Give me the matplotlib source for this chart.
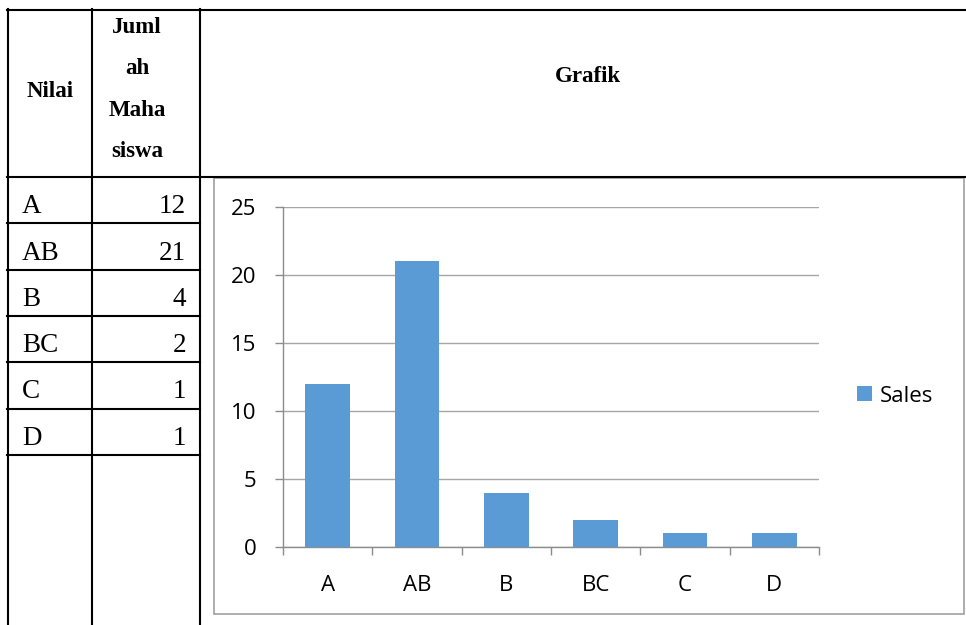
import matplotlib
matplotlib.use('Agg')
import matplotlib.pyplot as plt
from matplotlib.lines import Line2D
from matplotlib.patches import Rectangle

# data
grades = ['A', 'AB', 'B', 'BC', 'C', 'D']
students = [12, 21, 4, 2, 1, 1]
series_name = 'Sales'
header_col1 = 'Nilai'
header_col2 = ['Juml', 'ah', 'Maha', 'siswa']
header_col3 = 'Grafik'

W, H = 966, 625
bar_color = '#5b9bd5'
grid_color = '#a6a6a6'


def fx(x):
    return x / W


def fy(y):
    return 1 - y / H


fig = plt.figure(figsize=(W / 100, H / 100), dpi=100)

# table lines
lw = 1.5


def hline(y, x0, x1):
    fig.add_artist(Line2D([fx(x0), fx(x1)], [fy(y), fy(y)], color='black', lw=lw,
                          transform=fig.transFigure))


def vline(x, y0, y1):
    fig.add_artist(Line2D([fx(x), fx(x)], [fy(y0), fy(y1)], color='black', lw=lw,
                          transform=fig.transFigure))


hline(10, 7, W)
hline(177, 7, W)
row_h = 46.3
for i in range(len(grades)):
    hline(177 + row_h * (i + 1), 7, 200)
for x in [8, 92, 200]:
    vline(x, 9, H)

serif = 'Liberation Serif'
fig.text(fx(50), fy(97), header_col1, fontsize=16.5, fontweight='bold', family=serif,
         ha='center', va='baseline')
for i, t in enumerate(header_col2):
    fig.text(fx(137), fy(33 + 41.3 * i), t, fontsize=16.5, fontweight='bold', family=serif,
             ha='center', va='baseline')
fig.text(fx(588), fy(82), header_col3, fontsize=16.5, fontweight='bold', family=serif,
         ha='center', va='baseline')

for i, (g, n) in enumerate(zip(grades, students)):
    base = 177 + row_h * (i + 1) - 10
    fig.text(fx(22), fy(base), g, fontsize=19.5, family=serif, ha='left', va='baseline')
    fig.text(fx(186), fy(base), str(n), fontsize=19.5, family=serif, ha='right', va='baseline')

# chart frame
fig.add_artist(Rectangle((fx(214), fy(614)), fx(964) - fx(214), fy(178) - fy(614),
                         fill=False, edgecolor='#a0a0a0', lw=1.2, transform=fig.transFigure))

# chart
ax = fig.add_axes([fx(283), fy(547), fx(819) - fx(283), fy(207) - fy(547)])
x = list(range(len(grades)))
bars = ax.bar(x, students, width=0.5, color=bar_color, label=series_name, zorder=3)
ax.set_xlim(-0.5, len(grades) - 0.5)
ax.set_ylim(0, 25)
ax.set_yticks([0, 5, 10, 15, 20, 25])
ax.yaxis.grid(True, color=grid_color, lw=1.0, zorder=0)

ax.set_xticks([i - 0.5 for i in range(len(grades) + 1)])
ax.set_xticklabels([])
ax.set_xticks(x, minor=True)
ax.set_xticklabels(grades, minor=True)

for s in ['top', 'right']:
    ax.spines[s].set_visible(False)
for s in ['left', 'bottom']:
    ax.spines[s].set_color('#8c8c8c')
    ax.spines[s].set_linewidth(1.0)

ax.tick_params(axis='y', direction='out', length=6, width=1, color='#8c8c8c', pad=13,
               labelsize=16)
ax.tick_params(axis='x', which='major', direction='out', length=6, width=1, color='#8c8c8c')
ax.tick_params(axis='x', which='minor', length=0, pad=20, labelsize=16)
for lab in ax.get_yticklabels() + ax.get_xticklabels(minor=True):
    lab.set_family('Open Sans')

fig.legend(handles=[bars], labels=[series_name], loc='center left',
           bbox_to_anchor=(fx(857), fy(396)), frameon=False,
           prop={'family': 'Open Sans', 'size': 16},
           handlelength=0.68, handleheight=0.68, handletextpad=0.35, borderpad=0,
           borderaxespad=0)

fig.savefig('out.png', dpi=100)
